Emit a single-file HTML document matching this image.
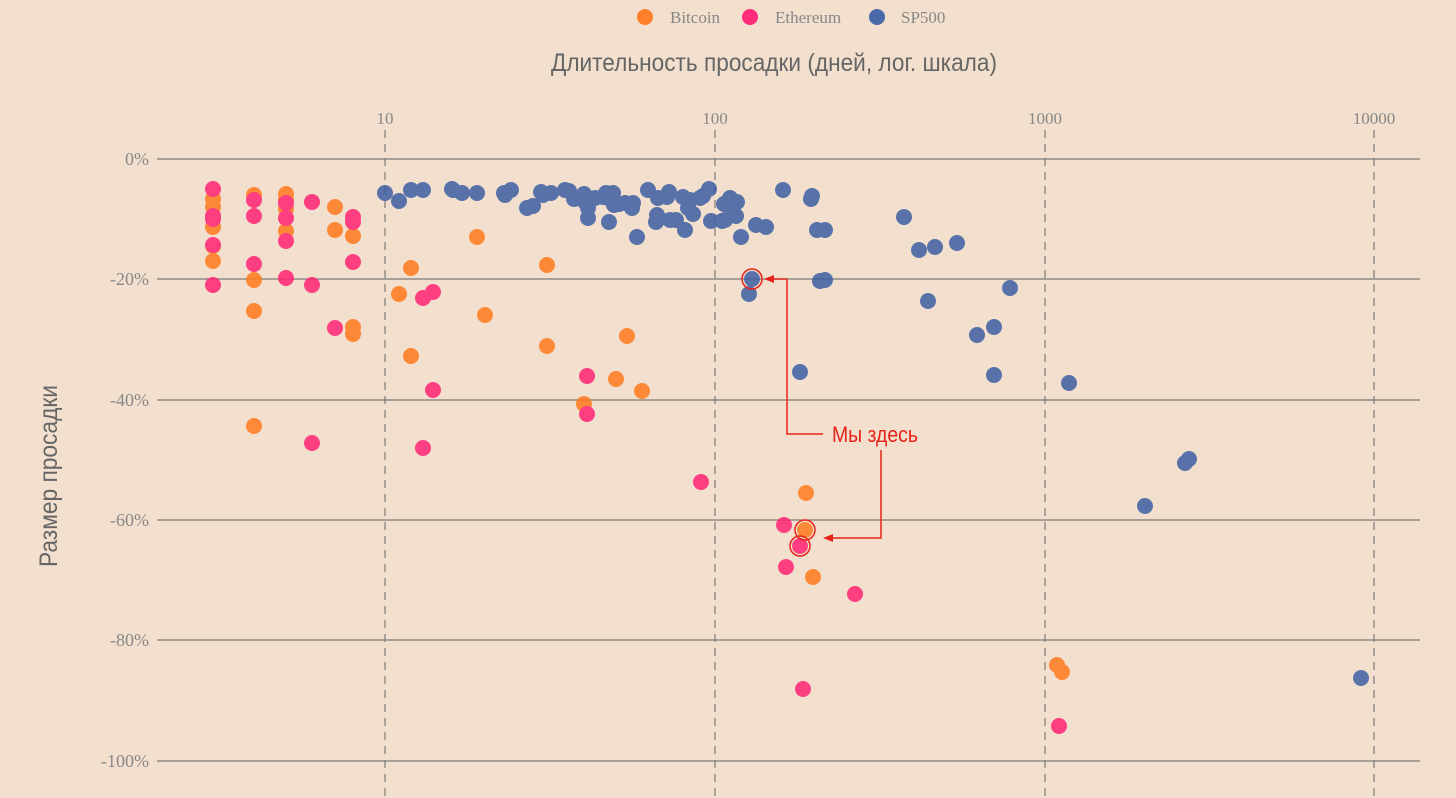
<!DOCTYPE html>
<html><head><meta charset="utf-8"><style>
html,body{margin:0;padding:0;background:#f2dfcd;}
svg{display:block}
.t{font-family:"Liberation Serif",serif;fill:#888;font-size:17px}
.y{font-size:18px}
.a{font-family:"Liberation Sans",sans-serif;fill:#666;font-size:25px}
</style></head><body>
<svg width="1456" height="798" viewBox="0 0 1456 798">
<rect width="1456" height="798" fill="#f2dfcd"/>
<g stroke="#7a7a7a" stroke-width="1.2">
<line x1="157" x2="1420" y1="159" y2="159"/><line x1="157" x2="1420" y1="279" y2="279"/>
<line x1="157" x2="1420" y1="400" y2="400"/><line x1="157" x2="1420" y1="520" y2="520"/>
<line x1="157" x2="1420" y1="640" y2="640"/><line x1="157" x2="1420" y1="761" y2="761"/>
</g>
<g stroke="#7a7a7a" stroke-width="1.2" stroke-dasharray="8,6">
<line x1="385" x2="385" y1="130" y2="798"/><line x1="715" x2="715" y1="130" y2="798"/>
<line x1="1045" x2="1045" y1="130" y2="798"/><line x1="1374" x2="1374" y1="130" y2="798"/>
</g>
<g class="t" text-anchor="middle">
<text x="385" y="124">10</text><text x="715" y="124">100</text><text x="1045" y="124">1000</text><text x="1374" y="124">10000</text>
</g>
<g class="t y" text-anchor="end">
<text x="149" y="165">0%</text><text x="149" y="285">-20%</text><text x="149" y="406">-40%</text>
<text x="149" y="526">-60%</text><text x="149" y="646">-80%</text><text x="149" y="767">-100%</text>
</g>
<text class="a" x="551" y="71" textLength="446" lengthAdjust="spacingAndGlyphs">Длительность просадки (дней, лог. шкала)</text>
<text class="a" transform="translate(57,567) rotate(-90)" textLength="182" lengthAdjust="spacingAndGlyphs">Размер просадки</text>
<g class="t">
<circle cx="645" cy="17" r="8" fill="#ff7f2a"/><text x="670" y="23">Bitcoin</text>
<circle cx="750" cy="17" r="8" fill="#ff2d7a"/><text x="775" y="23">Ethereum</text>
<circle cx="877" cy="17" r="8" fill="#4a69a8"/><text x="901" y="23">SP500</text>
</g>
<g id="pts" opacity="0.85"></g>
<g fill="none" stroke="#e8231a" stroke-width="1.5">
<polyline points="787,279 787,434 823,434"/><line x1="787" y1="279" x2="772" y2="279"/>
<polyline points="881,450 881,538 832,538"/>
<circle cx="752" cy="279" r="10"/><circle cx="805" cy="530" r="10"/><circle cx="800" cy="546" r="10"/>
</g>
<polygon points="764,279 774,275 774,283" fill="#e8231a"/>
<polygon points="823,538 833,534 833,542" fill="#e8231a"/>
<text x="832" y="442" textLength="86" lengthAdjust="spacingAndGlyphs" font-family="Liberation Sans,sans-serif" font-size="22" fill="#e8231a">Мы здесь</text>
</svg>
<script>
var O=[[213,199],[213,207],[213,218],[213,227],[213,246],[213,261],[254,195],[254,280],[254,311],[254,426],[286,194],[286,200],[286,209],[286,231],[335,207],[335,230],[353,327],[353,334],[353,236],[399,294],[411,268],[411,356],[477,237],[485,315],[547,265],[547,346],[584,404],[616,379],[627,336],[642,391],[806,493],[805,530],[813,577],[1057,665],[1062,672]];
var P=[[213,189],[213,216],[213,219],[213,245],[213,285],[254,200],[254,216],[254,264],[286,203],[286,218],[286,241],[286,278],[312,202],[312,285],[312,443],[335,328],[353,217],[353,222],[353,262],[423,298],[423,448],[433,292],[433,390],[587,376],[587,414],[701,482],[784,525],[800,546],[786,567],[855,594],[803,689],[1059,726]];
var B=[[385,193],[399,201],[411,190],[423,190],[452,189],[453,190],[462,193],[477,193],[504,193],[505,195],[511,190],[527,208],[533,206],[541,192],[543,195],[551,193],[565,190],[569,191],[574,199],[578,198],[584,194],[585,202],[588,218],[588,208],[595,198],[603,197],[606,193],[608,198],[609,222],[613,193],[614,205],[619,204],[625,203],[632,208],[633,203],[637,237],[648,190],[656,222],[657,215],[658,198],[667,197],[669,192],[670,220],[676,220],[683,197],[685,230],[688,208],[690,200],[693,214],[700,198],[703,196],[709,189],[711,221],[722,221],[724,204],[725,220],[730,198],[733,208],[736,216],[737,202],[741,237],[749,294],[752,279],[756,225],[766,227],[783,190],[800,372],[811,199],[812,196],[817,230],[820,281],[825,230],[825,280],[904,217],[919,250],[935,247],[957,243],[928,301],[977,335],[994,327],[994,375],[1010,288],[1069,383],[1185,463],[1189,459],[1145,506],[1361,678]];
var g=document.getElementById('pts'),s='';
function add(a,c){a.forEach(function(p){s+='<circle cx="'+p[0]+'" cy="'+p[1]+'" r="8" fill="'+c+'"/>';});}
add(B,'#3e60a3');add(O,'#ff7a1f');add(P,'#ff2474');
g.innerHTML=s;
</script>
</body></html>
